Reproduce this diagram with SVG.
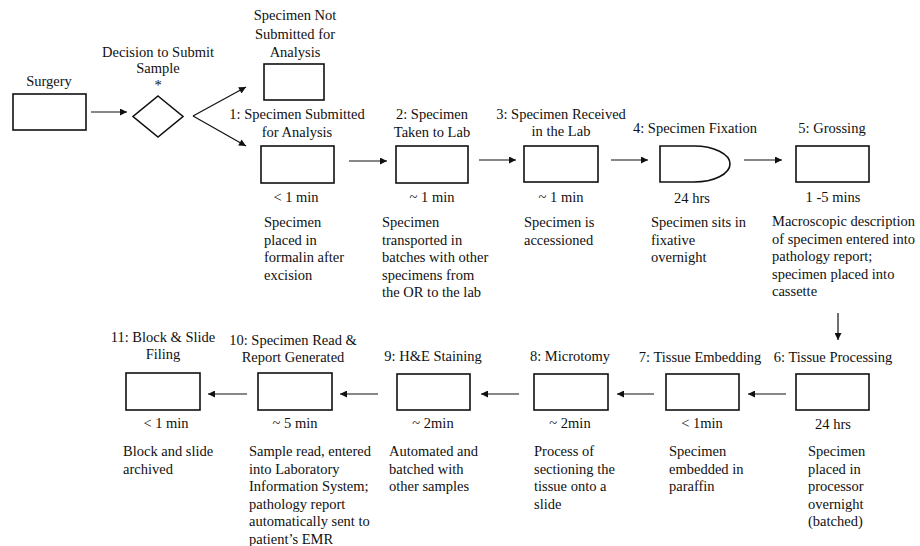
<svg xmlns="http://www.w3.org/2000/svg" width="920" height="546" viewBox="0 0 920 546">
<style>
text{font-family:"Liberation Serif","Times New Roman",serif;font-size:14.5px;fill:#111}
.c{text-anchor:middle}
.box{fill:#fff;stroke:#111;stroke-width:1.6}
.ln{stroke:#111;stroke-width:1.2;fill:none}
</style>
<defs>
<marker id="ah" viewBox="0 0 10 10" refX="10" refY="5" markerUnits="userSpaceOnUse" markerWidth="9" markerHeight="7" orient="auto">
<path d="M0,0 L10,5 L0,10 z" fill="#111"/>
</marker>
</defs>
<rect width="920" height="546" fill="#fff"/>

<g id="connectors">
<line class="ln" x1="91" y1="112" x2="127" y2="112" marker-end="url(#ah)"/>
<line class="ln" x1="193" y1="116" x2="246" y2="87" marker-end="url(#ah)"/>
<line class="ln" x1="193" y1="116" x2="246" y2="146" marker-end="url(#ah)"/>
<line class="ln" x1="349" y1="161" x2="387" y2="161" marker-end="url(#ah)"/>
<line class="ln" x1="479" y1="160" x2="516" y2="160" marker-end="url(#ah)"/>
<line class="ln" x1="611" y1="160" x2="648" y2="160" marker-end="url(#ah)"/>
<line class="ln" x1="744" y1="160" x2="782" y2="160" marker-end="url(#ah)"/>
<line class="ln" x1="838" y1="313" x2="838" y2="340" marker-end="url(#ah)"/>
<line class="ln" x1="786" y1="394" x2="748" y2="394" marker-end="url(#ah)"/>
<line class="ln" x1="654" y1="394" x2="617" y2="394" marker-end="url(#ah)"/>
<line class="ln" x1="519" y1="394" x2="481" y2="394" marker-end="url(#ah)"/>
<line class="ln" x1="378" y1="394" x2="340" y2="394" marker-end="url(#ah)"/>
<line class="ln" x1="247" y1="394" x2="208" y2="394" marker-end="url(#ah)"/>
</g>

<g id="surgery">
<text class="c" x="49" y="86">Surgery</text>
<rect class="box" x="13" y="94" width="73" height="36"/>
</g>

<g id="decision">
<text class="c" x="158" y="57">Decision to Submit</text>
<text class="c" x="158" y="73">Sample</text>
<text class="c" x="158" y="90">*</text>
<polygon class="box" points="158,96 183,116.5 158,137 133,116.5"/>
</g>

<g id="not-submitted">
<text class="c" x="295" y="20">Specimen Not</text>
<text class="c" x="295" y="38.5">Submitted for</text>
<text class="c" x="295" y="56.5">Analysis</text>
<rect class="box" x="264" y="64" width="60" height="36"/>
</g>

<g id="step1">
<text class="c" x="297" y="119">1: Specimen Submitted</text>
<text class="c" x="297" y="136.5">for Analysis</text>
<rect class="box" x="261" y="146" width="73" height="37"/>
<text class="c" x="296" y="202">&lt; 1 min</text>
<text x="264" y="227">Specimen</text>
<text x="264" y="244.5">placed in</text>
<text x="264" y="262">formalin after</text>
<text x="264" y="279.5">excision</text>
</g>

<g id="step2">
<text class="c" x="432" y="119">2: Specimen</text>
<text class="c" x="432" y="136.5">Taken to Lab</text>
<rect class="box" x="396" y="146" width="72" height="37"/>
<text class="c" x="432" y="202">~ 1 min</text>
<text x="382" y="227">Specimen</text>
<text x="382" y="244.5">transported in</text>
<text x="382" y="262">batches with other</text>
<text x="382" y="279.5">specimens from</text>
<text x="382" y="297">the OR to the lab</text>
</g>

<g id="step3">
<text class="c" x="561" y="118.5">3: Specimen Received</text>
<text class="c" x="561" y="136">in the Lab</text>
<rect class="box" x="524" y="146" width="74" height="36"/>
<text class="c" x="561" y="202">~ 1 min</text>
<text x="524" y="227">Specimen is</text>
<text x="524" y="244.5">accessioned</text>
</g>

<g id="step4">
<text class="c" x="695" y="133">4: Specimen Fixation</text>
<path class="box" d="M660,146 H694 A36,18 0 0 1 694,182 H660 Z"/>
<text class="c" x="692" y="203">24 hrs</text>
<text x="651" y="227">Specimen sits in</text>
<text x="651" y="244.5">fixative</text>
<text x="651" y="262">overnight</text>
</g>

<g id="step5">
<text class="c" x="832" y="133">5: Grossing</text>
<rect class="box" x="796" y="146" width="73" height="36"/>
<text class="c" x="833" y="202">1 -5 mins</text>
<text x="772" y="226">Macroscopic description</text>
<text x="772" y="243.5">of specimen entered into</text>
<text x="772" y="261">pathology report;</text>
<text x="772" y="278.5">specimen placed into</text>
<text x="772" y="296">cassette</text>
</g>

<g id="step6">
<text class="c" x="833" y="362">6: Tissue Processing</text>
<rect class="box" x="796" y="374" width="73" height="36"/>
<text class="c" x="833" y="429">24 hrs</text>
<text x="808" y="456">Specimen</text>
<text x="808" y="473.5">placed in</text>
<text x="808" y="491">processor</text>
<text x="808" y="508.5">overnight</text>
<text x="808" y="526">(batched)</text>
</g>

<g id="step7">
<text class="c" x="700" y="362">7: Tissue Embedding</text>
<rect class="box" x="666" y="374" width="73" height="36"/>
<text class="c" x="702" y="428">&lt; 1min</text>
<text x="669" y="456">Specimen</text>
<text x="669" y="473.5">embedded in</text>
<text x="669" y="491">paraffin</text>
</g>

<g id="step8">
<text class="c" x="570" y="361">8: Microtomy</text>
<rect class="box" x="534" y="374" width="74" height="36"/>
<text class="c" x="570" y="428">~ 2min</text>
<text x="534" y="456">Process of</text>
<text x="534" y="473.5">sectioning the</text>
<text x="534" y="491">tissue onto a</text>
<text x="534" y="508.5">slide</text>
</g>

<g id="step9">
<text class="c" x="433" y="361">9: H&amp;E Staining</text>
<rect class="box" x="397" y="374" width="73" height="36"/>
<text class="c" x="433" y="428">~ 2min</text>
<text x="389" y="456">Automated and</text>
<text x="389" y="473.5">batched with</text>
<text x="389" y="491">other samples</text>
</g>

<g id="step10">
<text class="c" x="293" y="345">10: Specimen Read &amp;</text>
<text class="c" x="293" y="362">Report Generated</text>
<rect class="box" x="258" y="373" width="74" height="37"/>
<text class="c" x="295" y="428">~ 5 min</text>
<text x="249" y="456">Sample read, entered</text>
<text x="249" y="473.5">into Laboratory</text>
<text x="249" y="491">Information System;</text>
<text x="249" y="508.5">pathology  report</text>
<text x="249" y="526">automatically sent to</text>
<text x="249" y="543.5">patient’s EMR</text>
</g>

<g id="step11">
<text class="c" x="163" y="342">11: Block &amp; Slide</text>
<text class="c" x="163" y="359">Filing</text>
<rect class="box" x="126" y="373" width="74" height="37"/>
<text class="c" x="166" y="428">&lt; 1 min</text>
<text x="123" y="456">Block and slide</text>
<text x="123" y="473.5">archived</text>
</g>
</svg>
